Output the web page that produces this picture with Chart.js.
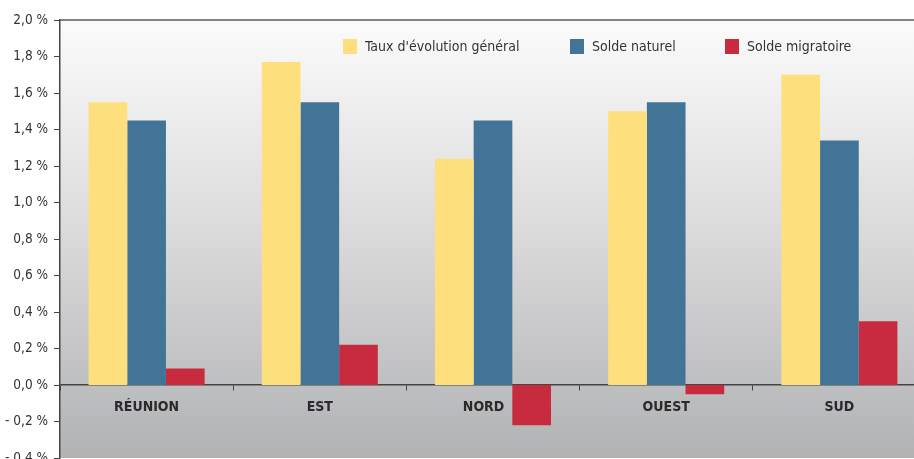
<!DOCTYPE html>
<html>
<head>
<meta charset="utf-8">
<script src="https://cdn.jsdelivr.net/npm/chart.js@4/dist/chart.umd.min.js"></script>
<style>
  body { margin: 0; background: #fff; }
  #frame { width: 914px; height: 459px; overflow: hidden; position: relative; }
  #box { width: 926px; height: 476px; position: absolute; left: 0; top: 0; }
</style>
</head>
<body>
<div id="frame"><div id="box"><canvas id="chartRegions"></canvas></div></div>
<script>
var regions = ['RÉUNION', 'EST', 'NORD', 'OUEST', 'SUD'];
var tauxGeneral = [1.55, 1.77, 1.24, 1.50, 1.70];
var soldeNaturel = [1.45, 1.55, 1.45, 1.55, 1.34];
var soldeMigratoire = [0.09, 0.22, -0.22, -0.05, 0.35];
var seriesNames = ["Taux d'évolution général", 'Solde naturel', 'Solde migratoire'];

var font = "'Liberation Sans Narrow', 'DejaVu Sans Condensed', sans-serif";

var plotBackground = {
  id: 'plotBackground',
  beforeDraw: function (chart) {
    var a = chart.chartArea, ctx = chart.ctx;
    var g = ctx.createLinearGradient(0, a.top, 0, a.bottom);
    g.addColorStop(0, '#fbfbfb');
    g.addColorStop(0.5, '#d9d9da');
    g.addColorStop(1, '#b1b2b4');
    ctx.save();
    ctx.fillStyle = g;
    ctx.fillRect(a.left, a.top, a.right - a.left, a.bottom - a.top);
    ctx.restore();
  },
  afterDraw: function (chart) {
    var a = chart.chartArea, ctx = chart.ctx;
    ctx.save();
    ctx.strokeStyle = '#5a5a5a';
    ctx.lineWidth = 1.5;
    ctx.beginPath();
    ctx.moveTo(a.left, a.top);
    ctx.lineTo(a.right, a.top);
    ctx.stroke();
    ctx.restore();
  }
};

var insideLegend = {
  id: 'insideLegend',
  afterDatasetsDraw: function (chart) {
    var ctx = chart.ctx;
    var xs = [343, 570, 725];
    ctx.save();
    ctx.font = '14px ' + font;
    ctx.textBaseline = 'middle';
    chart.data.datasets.forEach(function (ds, i) {
      ctx.fillStyle = ds.backgroundColor;
      ctx.fillRect(xs[i], 39, 14, 15);
      ctx.fillStyle = '#333';
      ctx.fillText(ds.label, xs[i] + 22, 47);
    });
    ctx.restore();
  }
};

var ctx = document.getElementById('chartRegions').getContext('2d');
var chartRegions = new Chart(ctx, {
  type: 'bar',
  data: {
    labels: regions,
    datasets: [{
      label: seriesNames[0],
      data: tauxGeneral,
      backgroundColor: '#fde07d'
    }, {
      label: seriesNames[1],
      data: soldeNaturel,
      backgroundColor: '#427497'
    }, {
      label: seriesNames[2],
      data: soldeMigratoire,
      backgroundColor: '#c92b3e'
    }]
  },
  plugins: [plotBackground, insideLegend],
  options: {
    responsive: true,
    maintainAspectRatio: false,
    animation: false,
    categoryPercentage: 0.67,
    barPercentage: 1,
    layout: { padding: { top: 20, bottom: 18, left: 0, right: 0 } },
    plugins: {
      legend: { display: false },
      tooltip: { enabled: false }
    },
    scales: {
      x: {
        position: { y: 0 },
        grid: {
          offset: true,
          drawOnChartArea: false,
          tickLength: 5,
          color: '#444'
        },
        border: { display: true, color: '#444', width: 1.5 },
        ticks: {
          color: '#2a2a2a',
          padding: 9,
          font: { family: font, size: 14, weight: 'bold' },
          callback: function (v, i) {
            // NORD label is pushed left of its negative bar, as in the original
            return i === 2 ? regions[i] + '\u2002\u2002\u2002' : regions[i];
          }
        }
      },
      y: {
        min: -0.4,
        max: 2.0,
        afterFit: function (s) { s.width = 60; },
        grid: {
          drawOnChartArea: false,
          tickLength: 6,
          color: '#444'
        },
        border: { display: true, color: '#444', width: 1.5 },
        ticks: {
          stepSize: 0.2,
          color: '#333',
          padding: 6,
          font: { family: font, size: 13.5 },
          callback: function (v) {
            var s = Math.abs(v).toFixed(1).replace('.', ',') + ' %';
            return v < -0.001 ? '- ' + s : s;
          }
        }
      }
    }
  }
});
</script>
</body>
</html>
